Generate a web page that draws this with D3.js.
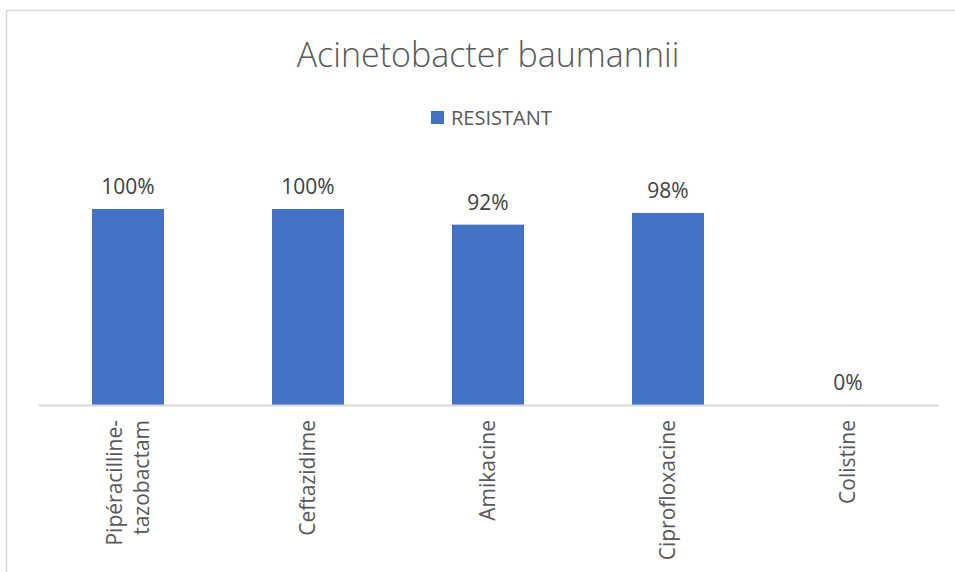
<!DOCTYPE html>
<html><head><meta charset="utf-8">
<script src="https://cdn.jsdelivr.net/npm/d3@7"></script>
<style>body{margin:0;background:#fff}svg{display:block}text{font-family:"Open Sans","Noto Sans",sans-serif;fill:#595959}</style>
</head><body>
<svg id="c" width="955" height="572"></svg>
<script>
const categories = ["Pipéracilline-\ntazobactam","Ceftazidime","Amikacine","Ciprofloxacine","Colistine"];
const resistant = [100,100,92,98,0];
const labels = ["100%","100%","92%","98%","0%"];
const seriesName = "RESISTANT";
const title = "Acinetobacter baumannii";

const svg = d3.select("#c");
svg.append("rect").attr("x",6.5).attr("y",10.5).attr("width",960).attr("height",580)
  .attr("fill","none").attr("stroke","#d9d9d9").attr("stroke-width",1.5);

const x = d3.scaleBand().domain(categories).range([38,938]).paddingInner(0.6).paddingOuter(0.3);
const y = d3.scaleLinear().domain([0,100]).range([405,209]);

svg.append("text").attr("x",488).attr("y",67).attr("text-anchor","middle")
  .style("font-size","34px").style("font-weight",300).text(title);

const lg = svg.append("g");
lg.append("rect").attr("x",431).attr("y",111).attr("width",13).attr("height",13).attr("fill","#4472c4");
lg.append("text").attr("x",451).attr("y",125).style("font-size","20px").text(seriesName);

svg.selectAll("rect.bar").data(resistant).join("rect").attr("class","bar")
  .attr("x",(d,i)=>x(categories[i])).attr("width",x.bandwidth())
  .attr("y",d=>y(d)).attr("height",d=>y(0)-y(d)).attr("fill","#4472c4");

svg.selectAll("text.lbl").data(labels).join("text").attr("class","lbl")
  .attr("x",(d,i)=>x(categories[i])+x.bandwidth()/2)
  .attr("y",(d,i)=>y(resistant[i])-15).attr("text-anchor","middle")
  .style("font-size","21px").style("fill","#404040").text(d=>d);

const ax = svg.append("g").attr("transform",`translate(0,${y(0)})`)
  .call(d3.axisBottom(x).tickSize(0).tickFormat(""));
ax.select(".domain").attr("stroke","#d9d9d9").attr("stroke-width",2);

categories.forEach((c,i)=>{
  const lines = c.split("\n");
  const cx = x(c)+x.bandwidth()/2;
  const t = svg.append("text").attr("transform",`translate(${cx},${y(0)+15}) rotate(-90)`)
    .attr("text-anchor","end").style("font-size","21px");
  const n = lines.length;
  lines.forEach((l,j)=>{
    t.append("tspan").attr("x",0).attr("y",(j-(n-1)/2)*27+7).text(l);
  });
});
</script>
</body></html>
